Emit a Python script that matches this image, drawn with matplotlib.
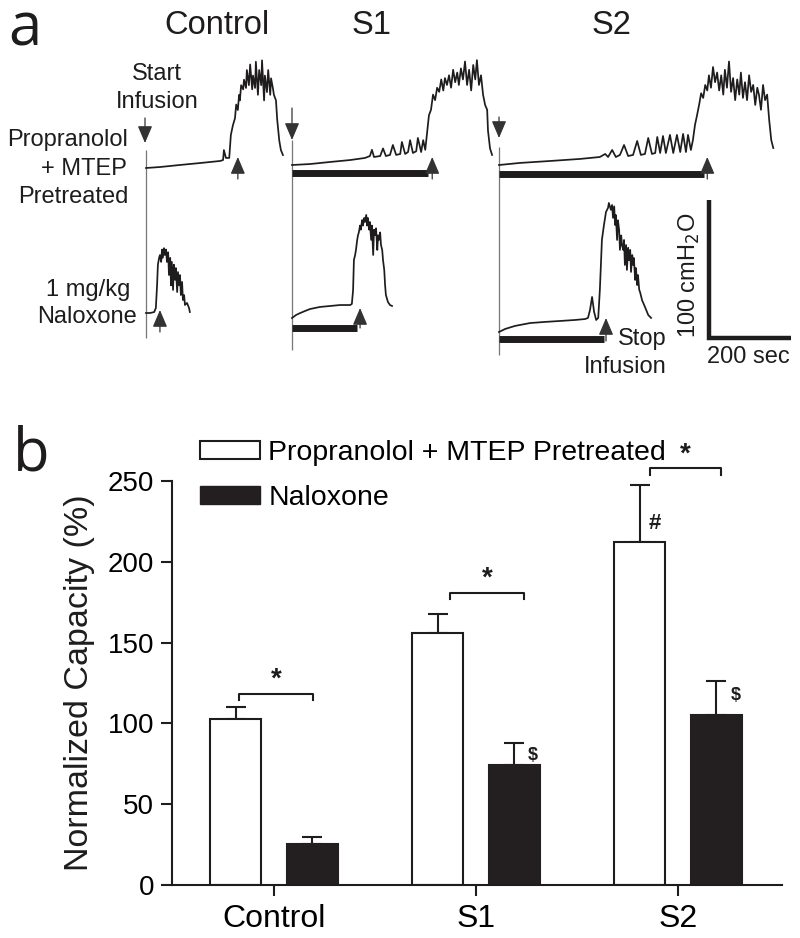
import numpy as np
import matplotlib
matplotlib.use('Agg')
import matplotlib.pyplot as plt
import matplotlib.transforms as mtransforms
from matplotlib.patches import Patch

plt.rcParams['font.family'] = ['Liberation Sans', 'DejaVu Sans']

# ---- panel a: cystometry traces (time in sec, pressure in cmH2O above start) ----
ctrl_top_t = [0, 34, 83, 132, 181, 188, 190, 195, 203, 207, 212, 217, 220, 224, 227, 229, 232, 237, 239, 244,
              246, 251, 254, 259, 261, 266, 268, 273, 276, 281, 283, 288, 290, 295, 298, 303, 305, 310, 312, 317,
              320, 325, 329, 334]
ctrl_top_p = [0, 0.7, 2.2, 3.6, 5.1, 5.8, 13, 7.3, 7.3, 24, 31, 36, 46, 42, 53, 49, 60, 57, 64, 58,
              71, 60, 75, 57, 67, 58, 77, 53, 71, 60, 78, 49, 67, 55, 71, 53, 65, 57, 53, 49,
              35, 20, 13, 9.4]

s1_top_t = [0, 44, 93, 142, 178, 190, 195, 200, 215, 222, 229, 239, 246, 254, 264, 268, 276, 283, 288, 295,
            303, 307, 315, 320, 325, 329, 334, 339, 344, 349, 354, 359, 364, 369, 373, 378, 383, 388, 393, 398,
            403, 407, 412, 417, 422, 427, 432, 437, 442, 447, 451, 456, 461, 466, 471, 476, 478, 483, 488]
s1_top_p = [0, 0.7, 2.2, 3.6, 5.1, 6.5, 11, 5.8, 6.5, 12, 6.5, 7.3, 14.5, 7.3, 8, 16.7, 8, 9.4, 18, 8.7,
            10, 19.6, 9.4, 18, 11, 22, 36, 40, 51, 47, 56, 53, 62, 54, 63, 58, 65, 56, 69, 60,
            67, 58, 70, 62, 75, 58, 69, 54, 72.5, 62, 76, 58, 65, 51, 43.5, 40, 25, 12, 7.3]

s2_top_t = [0, 51, 124, 198, 246, 259, 266, 276, 285, 295, 305, 315, 327, 337, 346, 356, 364, 373, 381, 386,
            393, 400, 407, 417, 425, 434, 442, 449, 456, 461, 468, 473, 478, 483, 488, 493, 498, 503, 508, 512,
            517, 522, 527, 532, 537, 542, 547, 551, 556, 561, 566, 571, 576, 581, 586, 590, 595, 600, 605, 610,
            615, 620, 625, 630, 634, 639, 644, 649, 654, 659, 664, 669]
s2_top_p = [0, 1.5, 2.9, 4.4, 5.8, 8, 5.8, 10.9, 5.8, 7.3, 14.5, 6.5, 7.3, 17.4, 7.3, 8, 19.6, 8, 8.7, 20.3,
            8.7, 21, 8.7, 21.8, 8.7, 21.8, 9.4, 22.5, 9.4, 21.8, 10.9, 18.1, 29, 36, 43.5, 52, 48.6, 58, 54, 65,
            56, 71, 60, 67, 54, 65, 51, 69, 56, 75, 53, 63, 47, 62, 51, 67, 48.6, 60, 47, 65,
            53, 58, 43.5, 56, 51, 40, 58, 47, 51, 32.6, 18.1, 12.3]

ctrl_bot_t = [0, 10, 20, 24, 27, 29, 32, 34, 37, 39, 41, 44, 46, 49, 51, 54, 56, 59, 61, 63,
              66, 68, 71, 73, 76, 78, 81, 83, 85, 88, 90, 93, 95, 100, 105, 107]
ctrl_bot_p = [0, 0, 0.7, 3.6, 20, 35, 40, 42, 37, 46, 40, 47, 42, 46, 37, 44, 27.5, 40, 20, 37,
              16.7, 35, 24, 32.6, 15.2, 29.7, 20, 27.5, 13, 22.5, 9.4, 13, 5.8, 7.3, 3.6, 0.7]

s1_bot_t = [0, 10, 20, 32, 44, 68, 93, 117, 142, 146, 149, 151, 154, 156, 159, 161, 163, 166, 168, 171,
            173, 176, 178, 181, 183, 185, 188, 190, 193, 195, 198, 200, 203, 205, 208, 210, 212, 215, 217, 220,
            222, 225, 227, 229, 234, 239, 244]
s1_bot_p = [0, 2.2, 3.6, 5.1, 6.5, 8, 8.7, 9.4, 9.4, 10.2, 20.3, 42, 45.7, 49.3, 56.6, 60, 62, 67, 64, 71,
            67, 72.5, 69.6, 74.7, 67, 72.5, 64, 69.6, 56.6, 67, 45.7, 64, 60, 65, 49.3, 60, 56.6, 62, 53, 49.3,
            42, 34.8, 24, 16.7, 11.6, 9.4, 8.7]

s2_bot_t = [0, 15, 39, 76, 112, 149, 185, 210, 217, 222, 227, 232, 237, 242, 246, 249, 251, 256, 261, 266,
            268, 273, 276, 278, 281, 283, 285, 288, 290, 293, 295, 298, 300, 303, 305, 307, 310, 312, 315, 317,
            320, 322, 325, 327, 329, 332, 334, 337, 339, 342, 344, 349, 354, 359, 364, 371]
s2_bot_p = [0, 2.2, 4.4, 6.5, 7.3, 8, 8.7, 9.4, 10.2, 16, 25.4, 14.5, 8.7, 10.2, 30.5, 52, 66.7, 77.6, 87, 90,
            93.5, 88.5, 92, 82.7, 91, 77.6, 84.8, 66.7, 81, 74, 59.5, 70, 63, 59.5, 66.7, 48.6, 63, 45, 61, 52,
            59.5, 43.5, 55.8, 48.6, 53.6, 37.7, 46.4, 34, 41.3, 30.5, 29, 23, 19.6, 16, 12.3, 10.2]

# infusion durations (sec) and stop times (sec)
infusion_top = [None, 332, 500]
infusion_bot = [None, 159, 256]
stop_top = [224, 342, 508]
stop_bot = [34, 166, 261]

# ---- panel b: bar data ----
groups = ['Control', 'S1', 'S2']
pre_mean = [103, 156, 212]
pre_err = [7, 12, 35.5]
nal_mean = [25.5, 74.5, 105.5]
nal_err = [4, 13.5, 21]
sig_y = [118.5, 181, 258]

INK = '#1e1c1c'

fig = plt.figure(figsize=(8, 9.38), dpi=100)

# panel a layout canvas (pixels)
axa = fig.add_axes([0, 1 - 400 / 938, 1, 400 / 938])
axa.set_xlim(0, 800)
axa.set_ylim(400, 0)
axa.axis('off')

PX_SEC = 82 / 200
PX_CM = 138 / 100


def tf(x0, y0):
    return mtransforms.Affine2D().scale(PX_SEC, -PX_CM).translate(x0, y0) + axa.transData


col_x = [146, 292, 499]
top_y = [168, 165, 165]
bot_y = [313, 318, 332]
top_traces = [(ctrl_top_t, ctrl_top_p), (s1_top_t, s1_top_p), (s2_top_t, s2_top_p)]
bot_traces = [(ctrl_bot_t, ctrl_bot_p), (s1_bot_t, s1_bot_p), (s2_bot_t, s2_bot_p)]

# divider lines
axa.vlines(col_x, [150, 140, 147], [338, 350, 355], color='#777777', lw=0.9)

for i in range(3):
    t, p = top_traces[i]
    axa.plot(t, p, transform=tf(col_x[i], top_y[i]), color=INK, lw=1.25)
    t, p = bot_traces[i]
    axa.plot(t, p, transform=tf(col_x[i], bot_y[i]), color=INK, lw=1.25)

# infusion bars
bar_off_top = [0, -5.8, -6.5]
bar_off_bot = [0, -7.2, -5.0]
for i in range(1, 3):
    axa.plot([0, infusion_top[i]], [bar_off_top[i]] * 2, transform=tf(col_x[i], top_y[i]),
             color=INK, lw=5, solid_capstyle='butt')
    axa.plot([0, infusion_bot[i]], [bar_off_bot[i]] * 2, transform=tf(col_x[i], bot_y[i]),
             color=INK, lw=5, solid_capstyle='butt')

arrow_props = dict(arrowstyle='-|>,head_length=0.75,head_width=0.32', color='#333333',
                   lw=0.9, shrinkA=0, shrinkB=0, mutation_scale=14)

# start infusion arrows (down)
for x, y_tail, y_tip in [(145, 118, 143), (292, 108, 140), (499, 117, 138)]:
    axa.annotate('', xy=(x, y_tip), xytext=(x, y_tail), arrowprops=arrow_props)

# stop infusion arrows (up)
top_tip = [157, 157, 157]
top_tail = [179, 179, 179]
bot_tip = [310, 308, 318]
bot_tail = [332, 328, 341]
for i in range(3):
    tr = mtransforms.blended_transform_factory(tf(col_x[i], top_y[i]), axa.transData)
    axa.annotate('', xy=(stop_top[i], top_tip[i]), xycoords=tr,
                 xytext=(stop_top[i], top_tail[i]), textcoords=tr, arrowprops=arrow_props)
    tr = mtransforms.blended_transform_factory(tf(col_x[i], bot_y[i]), axa.transData)
    axa.annotate('', xy=(stop_bot[i], bot_tip[i]), xycoords=tr,
                 xytext=(stop_bot[i], bot_tail[i]), textcoords=tr, arrowprops=arrow_props)

# scale bar
axa.plot([0, 0, 200], [100, 0, 0], transform=tf(709, 338), color=INK, lw=3.2,
         solid_joinstyle='miter', solid_capstyle='butt')
axa.text(748, 363, '200 sec', ha='center', va='baseline', fontsize=17, color=INK)
axa.text(689, 275, '100 cmH$_2$O', ha='center', va='center', rotation=90, fontsize=17, color=INK)

# labels
axa.text(8, 45, 'a', fontsize=43, ha='left', va='baseline', color=INK, family=['Open Sans', 'DejaVu Sans'])
for x, s in zip([217, 372, 611], groups):
    axa.text(x, 34, s, ha='center', va='baseline', fontsize=23.5, color=INK)
axa.text(157, 80, 'Start', ha='center', va='baseline', fontsize=17, color=INK)
axa.text(157, 108, 'Infusion', ha='center', va='baseline', fontsize=17, color=INK)
axa.text(128, 146, 'Propranolol', ha='right', va='baseline', fontsize=17, color=INK)
axa.text(127, 175, '+ MTEP', ha='right', va='baseline', fontsize=17, color=INK)
axa.text(128, 203, 'Pretreated', ha='right', va='baseline', fontsize=17, color=INK)
axa.text(130, 296, '1 mg/kg', ha='right', va='baseline', fontsize=17, color=INK)
axa.text(137, 323, 'Naloxone', ha='right', va='baseline', fontsize=17, color=INK)
axa.text(667, 345, 'Stop', ha='right', va='baseline', fontsize=17, color=INK)
axa.text(667, 373, 'Infusion', ha='right', va='baseline', fontsize=17, color=INK)

# ---- panel b ----
axb = fig.add_axes([172 / 800, 1 - 885 / 938, 610 / 800, 404 / 938])
x = np.arange(len(groups))
off, w = 0.19, 0.25
axb.bar(x - off, pre_mean, w, color='white', edgecolor=INK, lw=1.5, zorder=2)
axb.bar(x + off, nal_mean, w, color='#231f20', edgecolor='#231f20', lw=1.5, zorder=2)
axb.errorbar(x - off, pre_mean, yerr=[np.zeros(3), pre_err], fmt='none', ecolor=INK,
             elinewidth=1.5, capsize=7.5, capthick=1.5, zorder=1)
axb.errorbar(x + off, nal_mean, yerr=[np.zeros(3), nal_err], fmt='none', ecolor=INK,
             elinewidth=1.5, capsize=7.5, capthick=1.5, zorder=1)

sig_x0 = [-0.173, -0.129, -0.139]
sig_x1 = [0.193, 0.238, 0.213]
for i in range(3):
    xa, xb, yy = i + sig_x0[i], i + sig_x1[i], sig_y[i]
    axb.plot([xa, xa, xb, xb], [yy - 4, yy, yy, yy - 4], color=INK, lw=1.5, clip_on=False)
    axb.text((xa + xb) / 2, yy + 0.5, '*', ha='center', va='bottom', fontsize=20,
             fontweight='bold', color=INK, clip_on=False)

axb.text(1 + 0.282, 80, '$', ha='center', va='center', fontsize=13, fontweight='bold', color=INK)
axb.text(2 + 0.287, 117, '$', ha='center', va='center', fontsize=13, fontweight='bold', color=INK)
axb.text(2 - 0.114, 223.5, '#', ha='center', va='center', fontsize=16, fontweight='bold', color=INK)

axb.set_xlim(-0.505, 2.515)
axb.set_ylim(0, 250)
axb.set_yticks([0, 50, 100, 150, 200, 250])
axb.set_xticks(x)
axb.set_xticklabels(groups, fontsize=23)
axb.tick_params(axis='y', labelsize=20, length=8, width=1.5, color=INK, pad=5)
axb.tick_params(axis='x', length=8, width=1.5, color=INK, pad=6)
for s in ['top', 'right']:
    axb.spines[s].set_visible(False)
for s in ['left', 'bottom']:
    axb.spines[s].set_linewidth(1.5)
    axb.spines[s].set_color(INK)
axb.set_ylabel('Normalized Capacity (%)', fontsize=24.5, color=INK, labelpad=9)

handles = [Patch(facecolor='white', edgecolor=INK, lw=1.5), Patch(facecolor='#231f20', edgecolor='#231f20')]
axb.legend(handles, ['Propranolol + MTEP Pretreated', 'Naloxone'], loc='upper left',
           bbox_to_anchor=(0.046, 1.101), frameon=False, fontsize=20.5, borderpad=0, borderaxespad=0,
           handlelength=2.1, handleheight=0.6, handletextpad=0.3, labelspacing=0.66)

fig.text(13 / 800, 1 - 470 / 938, 'b', fontsize=43, ha='left', va='baseline', color=INK,
         family=['Open Sans', 'DejaVu Sans'])

fig.savefig('out.png', dpi=100)
